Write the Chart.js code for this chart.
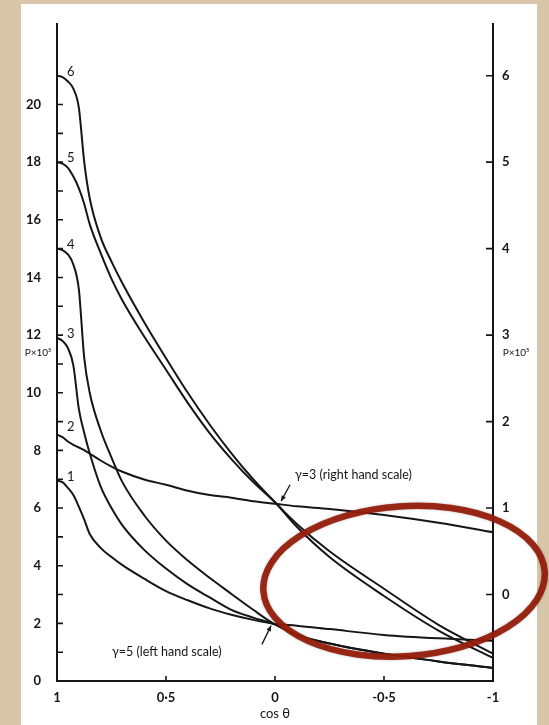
<!DOCTYPE html>
<html>
<head>
<meta charset="utf-8">
<title>P x 10^5 against cos θ</title>
<script src="https://cdn.jsdelivr.net/npm/chart.js@4.4.0/dist/chart.umd.min.js"></script>
<style>
  html, body { margin: 0; padding: 0; background: #d7c6a9; }
  #wrap { position: relative; width: 549px; height: 725px; }
</style>
</head>
<body>
<div id="wrap"><canvas id="chart"></canvas></div>
<script>
const cosGrid = [1, 0.975, 0.95, 0.925, 0.9, 0.875, 0.85, 0.8, 0.75, 0.7, 0.6, 0.5, 0.4, 0.3, 0.2, 0.1, 0, -0.1, -0.25, -0.5, -0.75, -1];

// left hand scale (P x 10^5)
const curve1 = [6.95, 6.9, 6.7, 6.45, 6.05, 5.6, 5.1, 4.62, 4.3, 4.02, 3.55, 3.12, 2.8, 2.52, 2.3, 2.12, 1.98, 1.92, 1.8, 1.6, 1.48, 1.4];
const curve3 = [11.9, 11.8, 11.55, 10.95, 9.45, 8.6, 7.9, 6.75, 6.0, 5.4, 4.55, 3.9, 3.35, 2.9, 2.47, 2.2, 1.97, 1.6, 1.3, 0.95, 0.68, 0.45];
const curve4 = [15.0, 14.95, 14.8, 14.45, 13.6, 11.2, 10.0, 8.7, 7.75, 6.9, 5.75, 4.87, 4.18, 3.58, 3.02, 2.47, 1.96, 1.6, 1.3, 0.95, 0.68, 0.45];
const curve5 = [18.0, 17.95, 17.8, 17.5, 17.1, 16.55, 15.85, 14.85, 13.95, 13.2, 11.95, 10.8, 9.65, 8.6, 7.7, 6.9, 6.2, 5.35, 4.3, 2.95, 1.75, 0.8];
const curve6 = [21.0, 20.95, 20.8, 20.55, 19.9, 18.0, 16.75, 15.4, 14.55, 13.8, 12.45, 11.2, 10.0, 8.9, 7.9, 7.0, 6.2, 5.45, 4.5, 3.2, 1.95, 0.95];

// right hand scale (P x 10^5)
const curve2 = [1.85, 1.82, 1.77, 1.73, 1.70, 1.67, 1.63, 1.55, 1.48, 1.42, 1.33, 1.27, 1.2, 1.15, 1.12, 1.08, 1.05, 1.02, 0.99, 0.92, 0.83, 0.72];

const curveNames = ['1', '2', '3', '4', '5', '6'];
const curveValues = [curve1, curve2, curve3, curve4, curve5, curve6];
const curveAxis = ['y', 'y2', 'y', 'y', 'y', 'y'];

const xTickValues = [1, 0.5, 0, -0.5, -1];
const xTickText = ['1', '0·5', '0', '-0·5', '-1'];
const leftTickMax = 20;
const rightTickMax = 6;

const FONT = 'Lato, "DejaVu Sans", sans-serif';
const INK = '#161616';

// paper, inward tick marks, curve numbers, notes and the red ring
const paperPlugin = {
    id: 'paper',
    beforeDraw(chart) {
        const ctx = chart.ctx;
        ctx.save();
        ctx.fillStyle = '#d7c6a9';
        ctx.fillRect(0, 0, chart.width, chart.height);
        ctx.fillStyle = '#ffffff';
        ctx.fillRect(21, 4, 516, chart.height - 4);
        ctx.restore();
    },
    afterDraw(chart) {
        const ctx = chart.ctx;
        const { x, y, y2 } = chart.scales;
        const area = chart.chartArea;
        ctx.save();
        ctx.strokeStyle = INK;
        ctx.lineWidth = 1.6;

        // tick marks point into the plot
        ctx.beginPath();
        y.ticks.forEach(t => {
            if (Number.isInteger(t.value) && t.value <= leftTickMax && t.value > 0) {
                const py = y.getPixelForValue(t.value);
                ctx.moveTo(area.left, py);
                ctx.lineTo(area.left + 6, py);
            }
        });
        y2.ticks.forEach(t => {
            if (Number.isInteger(t.value) && t.value >= 0 && t.value <= rightTickMax) {
                const py = y2.getPixelForValue(t.value);
                ctx.moveTo(area.right - 7, py);
                ctx.lineTo(area.right, py);
            }
        });
        xTickValues.slice(1, -1).forEach(v => {
            const px = x.getPixelForValue(v);
            ctx.moveTo(px, area.bottom);
            ctx.lineTo(px, area.bottom - 5);
        });
        ctx.stroke();

        // curve numbers next to the start of each curve
        ctx.fillStyle = INK;
        ctx.font = '13px ' + FONT;
        ctx.textAlign = 'left';
        ctx.textBaseline = 'middle';
        curveNames.forEach((name, i) => {
            const scale = chart.scales[curveAxis[i]];
            const px = x.getPixelForValue(cosGrid[0]) + 10;
            const py = scale.getPixelForValue(curveValues[i][0]) - (name === '2' ? 8 : 4);
            ctx.fillText(name, px, py);
        });

        // axis titles
        ctx.font = '10px ' + FONT;
        ctx.textAlign = 'center';
        ctx.fillText('P×10⁵', 38, 353);
        ctx.fillText('P×10⁵', 516, 353);
        ctx.font = '13px ' + FONT;
        ctx.fillText('cos θ', x.getPixelForValue(0), 714);

        // notes with arrows
        ctx.font = '12.5px ' + FONT;
        ctx.textAlign = 'left';
        ctx.fillText('γ=3 (right hand scale)', x.getPixelForValue(-0.092), y2.getPixelForValue(1.38));
        ctx.fillText('γ=5 (left hand scale)', x.getPixelForValue(0.748), y.getPixelForValue(0.99));
        drawArrow(ctx, x.getPixelForValue(-0.069), y2.getPixelForValue(1.27), x.getPixelForValue(-0.028), y2.getPixelForValue(1.08));
        drawArrow(ctx, x.getPixelForValue(0.06), y.getPixelForValue(1.27), x.getPixelForValue(0.018), y.getPixelForValue(1.92));

        // red ring drawn over the lower right corner
        ctx.strokeStyle = 'rgba(150, 30, 12, 0.95)';
        ctx.lineWidth = 6.5;
        ctx.shadowColor = 'rgba(0,0,0,0.25)';
        ctx.shadowBlur = 3;
        ctx.beginPath();
        ctx.ellipse(x.getPixelForValue(-0.592), y.getPixelForValue(3.46), 141, 75, -0.07, 0, Math.PI * 2);
        ctx.stroke();
        ctx.restore();
    }
};

function drawArrow(ctx, x0, y0, x1, y1) {
    const a = Math.atan2(y1 - y0, x1 - x0);
    ctx.save();
    ctx.strokeStyle = INK;
    ctx.fillStyle = INK;
    ctx.lineWidth = 1.3;
    ctx.beginPath();
    ctx.moveTo(x0, y0);
    ctx.lineTo(x1, y1);
    ctx.stroke();
    ctx.beginPath();
    ctx.moveTo(x1, y1);
    ctx.lineTo(x1 - 6 * Math.cos(a - 0.4), y1 - 6 * Math.sin(a - 0.4));
    ctx.lineTo(x1 - 6 * Math.cos(a + 0.4), y1 - 6 * Math.sin(a + 0.4));
    ctx.closePath();
    ctx.fill();
    ctx.restore();
}

const datasets = curveNames.map((name, i) => ({
    label: 'curve ' + name,
    data: cosGrid.map((c, j) => ({ x: c, y: curveValues[i][j] })),
    yAxisID: curveAxis[i],
    borderColor: INK,
    borderWidth: 2,
    pointRadius: 0,
    fill: false,
    cubicInterpolationMode: 'monotone'
}));

const axisBorder = { display: true, color: INK, width: 2 };
const tickFont = { family: FONT, size: 13, weight: 'bold' };
const noGrid = { display: false, drawTicks: false };

new Chart(document.getElementById('chart').getContext('2d'), {
    type: 'line',
    data: { datasets: datasets },
    options: {
        responsive: true,
        maintainAspectRatio: false,
        animation: false,
        layout: { padding: { top: 16, left: 0, right: 0, bottom: 0 } },
        plugins: { legend: { display: false }, tooltip: { enabled: false } },
        scales: {
            x: {
                type: 'linear',
                reverse: true,
                min: -1,
                max: 1,
                grid: noGrid,
                border: axisBorder,
                ticks: {
                    stepSize: 0.5,
                    padding: 9,
                    color: INK,
                    font: tickFont,
                    maxRotation: 0,
                    callback: v => {
                        const k = xTickValues.indexOf(v);
                        return k >= 0 ? xTickText[k] : '';
                    }
                },
                afterFit: s => { s.height = 44; }
            },
            y: {
                type: 'linear',
                position: 'left',
                min: 0,
                max: 22.8,
                grid: noGrid,
                border: axisBorder,
                ticks: {
                    stepSize: 1,
                    padding: 16,
                    color: INK,
                    font: tickFont,
                    autoSkip: false,
                    callback: v => (Number.isInteger(v) && v % 2 === 0 && v <= leftTickMax) ? String(v) : ''
                },
                afterFit: s => { s.width = 57; }
            },
            y2: {
                type: 'linear',
                position: 'right',
                min: -1,
                max: 6.6,
                grid: noGrid,
                border: axisBorder,
                ticks: {
                    stepSize: 1,
                    padding: 9,
                    color: INK,
                    font: tickFont,
                    autoSkip: false,
                    callback: v => (Number.isInteger(v) && v >= 0 && v <= rightTickMax) ? String(v) : ''
                },
                afterFit: s => { s.width = 56; }
            }
        }
    },
    plugins: [paperPlugin]
});
</script>
</body>
</html>
